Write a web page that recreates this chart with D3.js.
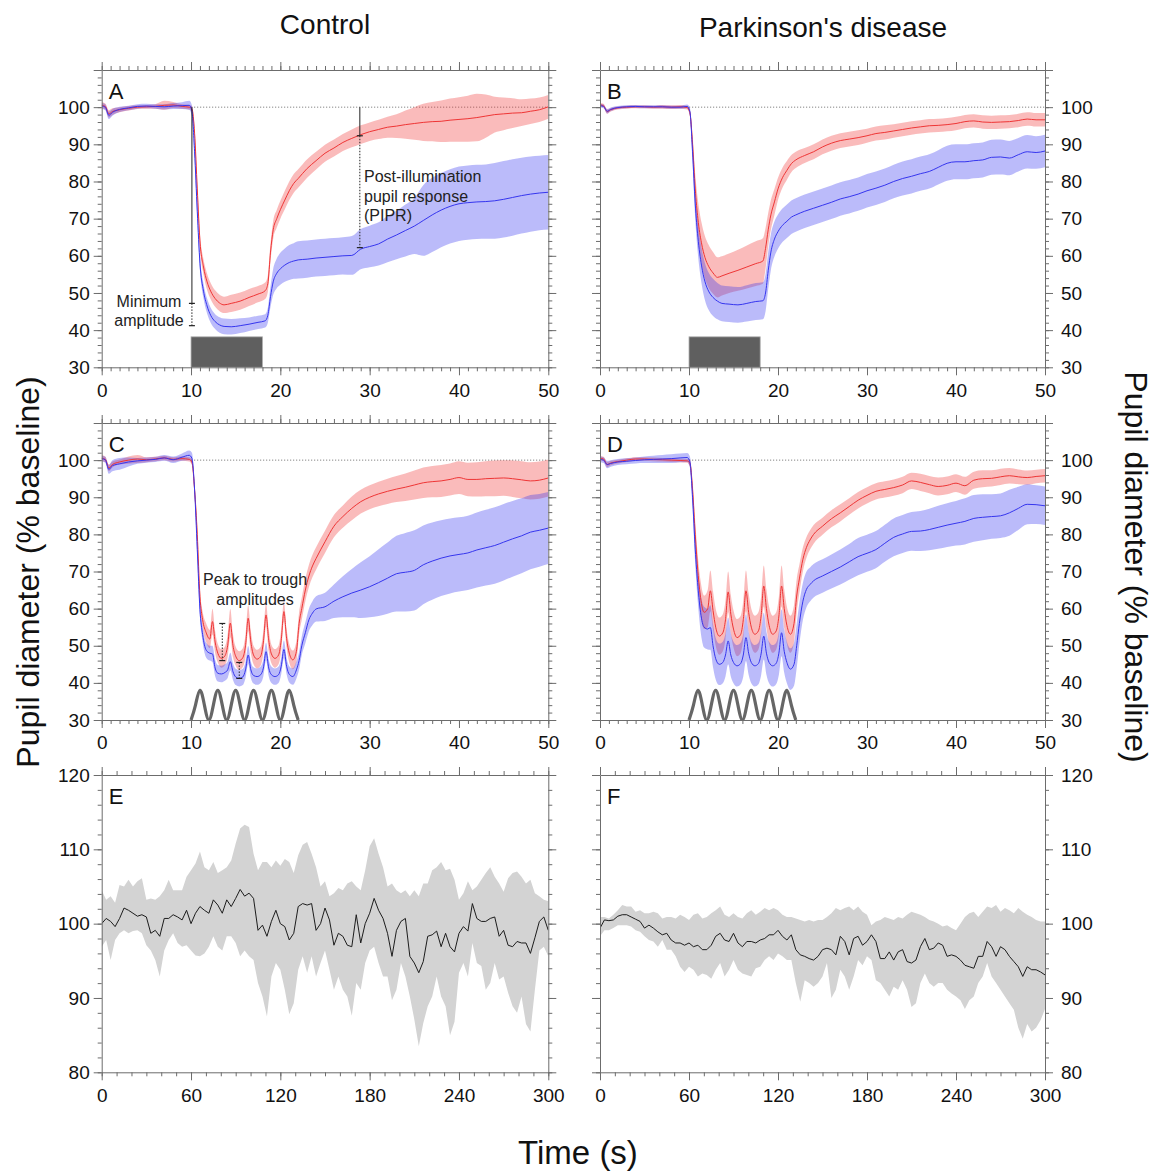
<!DOCTYPE html>
<html>
<head>
<meta charset="utf-8">
<script src="https://cdn.jsdelivr.net/npm/d3@7"></script>
<style>
  body { margin: 0; background: #fff; }
  svg { display: block; }
</style>
</head>
<body>
<svg id="fig" width="1158" height="1171"></svg>
<script>
// ---- data ----
// light pulse protocol, panels A-D (time in s)
const tAB = [
  0, 0.4, 0.8, 1.2, 2, 3, 4, 5, 6, 7,
  8, 9, 9.8, 10.1, 10.4, 10.7, 11, 11.4, 11.8, 12.2,
  12.7, 13.2, 13.7, 14.5, 15.5, 16.5, 17.5, 18.3, 18.6, 18.9,
  19.2, 19.6, 20, 20.5, 21, 21.5, 22, 23, 24, 25,
  26, 27, 28, 29, 30, 31, 32, 33, 34, 35,
  36, 37, 38, 39, 40, 41, 42, 43, 44, 45,
  46, 47, 48, 49, 50];

const redA = [
  100.5, 100.2, 98.2, 98.8, 99.3, 99.7, 100, 100.1, 100.2, 100.5,
  100.6, 100.2, 100, 99.5, 93, 78, 64, 57, 53, 50.5,
  48.5, 47.3, 46.8, 47.2, 47.8, 48.8, 49.7, 50.6, 52.5, 61,
  67, 70, 72.4, 75, 77.5, 79.5, 80.8, 83.5, 85.6, 87.6,
  89, 90.5, 91.6, 92.6, 93.4, 94, 94.6, 94.9, 95.3, 95.6,
  95.9, 96.1, 96.2, 96.5, 96.7, 96.9, 97.2, 97.6, 98, 98.2,
  98.4, 98.5, 98.9, 99.3, 100.1];
const redAErr = [
  0.8, 0.8, 1, 0.9, 0.7, 0.6, 0.5, 0.5, 0.6, 1.2,
  0.8, 0.6, 0.6, 0.8, 1.5, 1.8, 2, 2, 2.2, 2.2,
  2.2, 2.2, 2.2, 2.3, 2.3, 2.3, 2.2, 2.2, 2.3, 2.4,
  2.4, 2.4, 2.4, 2.5, 2.5, 2.5, 2.5, 2.5, 2.4, 2.3,
  2.3, 2.3, 2.4, 2.5, 2.5, 2.6, 2.8, 3.2, 3.8, 4.4,
  5, 5.3, 5.6, 5.8, 6, 6.2, 6.4, 5.8, 4.8, 4.4,
  4, 3.6, 3.4, 3.3, 3.2];
const blueA = [
  100.3, 100, 97.8, 98.6, 99.4, 99.8, 100.2, 100.3, 100.2, 100.1,
  100.3, 100.4, 100.5, 99, 88, 72, 58, 50.5, 46.5, 44,
  42.3, 41.4, 41, 40.9, 41.2, 41.6, 42.1, 42.5, 44, 49,
  53, 55.3, 56.5, 57.5, 58.2, 58.6, 58.9, 59.1, 59.4, 59.6,
  59.8, 60, 60.1, 61.8, 62.5, 63.2, 64.5, 65.6, 66.8, 68,
  69.5, 71, 72.3, 73.3, 74, 74.3, 74.5, 74.6, 74.8, 75.2,
  75.7, 76.2, 76.6, 76.9, 77.1];
const blueAErr = [
  0.8, 0.8, 1, 0.9, 0.7, 0.6, 0.6, 0.6, 0.6, 0.7,
  0.8, 0.9, 1.2, 1.5, 2, 2, 2, 2, 2, 2,
  2, 2.1, 2.1, 2.1, 2, 1.8, 1.8, 1.8, 2, 2.8,
  3.5, 4, 4.3, 4.5, 4.7, 4.8, 5, 5, 5, 5,
  5, 5, 5.2, 5.4, 5.6, 5.8, 6.2, 6.5, 7, 7.5,
  9.5, 10, 10, 10, 10, 10, 10, 10, 10.2, 10.3,
  10.3, 10.2, 10.1, 10, 10];

const redB = [
  100.6, 100.4, 98.8, 99.3, 99.8, 100, 100.1, 100.1, 100, 100.1,
  100, 100.1, 99.9, 98.5, 90, 78, 70, 63.5, 59.5, 57.2,
  55.4, 54.2, 54.6, 55.3, 56.1, 57, 57.9, 58.6, 62, 67,
  71, 74.5, 78, 81, 83, 84.8, 85.8, 87, 88, 89.3,
  90.3, 91, 91.4, 91.8, 92.3, 92.9, 93.2, 93.6, 94, 94.4,
  94.7, 95, 95.1, 95.3, 95.6, 96.1, 96.3, 96, 95.9, 96,
  96.1, 96.4, 96.8, 96.6, 96.6];
const redBErr = [
  0.5, 0.5, 0.6, 0.5, 0.4, 0.4, 0.4, 0.4, 0.4, 0.5,
  0.5, 0.5, 0.5, 0.8, 2.5, 4, 5, 5.5, 5.7, 5.8,
  5.6, 5.4, 5.3, 5.3, 5.5, 5.8, 6, 6.1, 5.5, 4.5,
  4, 3.5, 3, 2.7, 2.5, 2.3, 2.2, 2, 2, 2,
  2, 2, 2, 2, 1.9, 1.9, 1.9, 1.8, 1.8, 1.8,
  1.8, 1.8, 1.8, 1.8, 1.8, 1.8, 1.8, 1.8, 1.8, 1.8,
  1.8, 1.8, 1.8, 1.8, 1.8];
const blueB = [
  100.4, 100.2, 98.9, 99.4, 99.9, 100.1, 100.2, 100.1, 100.1, 100.1,
  100, 100, 100.2, 98.8, 88, 74, 65, 57.5, 53, 50.5,
  48.8, 47.8, 47.2, 47, 46.8, 47.2, 47.7, 47.9, 50, 56,
  61, 64.5, 66.5, 68.2, 69.3, 70.4, 71, 72, 72.8, 73.6,
  74.4, 75.3, 75.9, 76.6, 77.5, 78.2, 79, 80, 80.8, 81.4,
  82.1, 82.7, 83.8, 84.9, 85.3, 85.3, 85.6, 85.8, 86.5, 86.6,
  86.3, 87.2, 88, 87.8, 88.2];
const blueBErr = [
  0.5, 0.5, 0.6, 0.5, 0.4, 0.4, 0.4, 0.4, 0.4, 0.4,
  0.4, 0.4, 0.5, 1, 3, 4, 4.5, 4.8, 5, 5,
  5, 4.9, 4.8, 4.8, 4.8, 4.9, 5, 5, 5, 5,
  4.8, 4.7, 4.6, 4.5, 4.5, 4.5, 4.5, 4.5, 4.5, 4.5,
  4.5, 4.5, 4.5, 4.5, 4.5, 4.5, 4.5, 4.5, 4.6, 4.6,
  4.6, 4.6, 4.6, 4.7, 4.7, 4.7, 4.7, 4.7, 4.7, 4.7,
  4.6, 4.5, 4.5, 4.4, 4.4];

// sinusoidal protocol, panels C-D
const tCD = [
  0, 0.4, 0.8, 1.2, 2, 3, 4, 5, 6, 7,
  8, 9, 9.8, 10.1, 10.4, 10.7, 11, 11.3, 11.7, 12.1,
  12.4, 12.7, 13, 13.4, 13.8, 14.1, 14.4, 14.7, 15, 15.4,
  15.8, 16.1, 16.4, 16.7, 17, 17.4, 17.8, 18.1, 18.4, 18.7,
  19, 19.4, 19.8, 20.1, 20.4, 20.7, 21, 21.4, 21.8, 22.1,
  22.4, 22.8, 23.2, 23.6, 24, 25, 26, 27, 28, 29,
  30, 31, 32, 33, 34, 35, 36, 37, 38, 39,
  40, 41, 42, 43, 44, 45, 46, 47, 48, 49,
  50];

const redC = [
  100.5, 100.2, 97.9, 98.8, 99.5, 100, 100.3, 100.1, 100.3, 100.6,
  100.2, 100.4, 100.2, 99.5, 92, 80, 63.3, 57, 53.5, 51.8,
  56.5, 51, 48, 46.6, 47.3, 50, 56.1, 50, 47.2, 46,
  46.8, 50, 57.4, 51, 47.5, 46.4, 47.2, 51, 58.3, 51.5,
  47.8, 46.6, 47.5, 51.5, 59.2, 52, 48, 46.2, 48.5, 56,
  60, 65, 68.8, 71.5, 73.5, 78, 82.2, 84.8, 87, 88.8,
  90, 90.9, 91.6, 92.2, 92.7, 93.3, 93.9, 94.2, 94.4, 94.8,
  95.3, 94.8, 94.8, 95, 95.1, 95.2, 95, 94.7, 94.4, 94.6,
  95.2];
const redCErr = [
  0.8, 0.8, 0.9, 0.8, 0.7, 1, 1.1, 0.7, 0.6, 0.6,
  0.6, 0.6, 0.6, 0.8, 1.5, 2, 2, 2.2, 2.5, 2.5,
  3.5, 3, 2.5, 2.5, 2.5, 3, 3.8, 3, 2.5, 2.5,
  2.5, 3, 3.5, 3, 2.5, 2.5, 2.5, 3, 3.2, 3,
  2.5, 2.5, 2.5, 3, 2.8, 2.5, 2.5, 2.5, 2.8, 3,
  3, 3, 3, 3, 3, 3, 3, 3, 3.2, 3.2,
  3.2, 3.3, 3.4, 3.5, 3.7, 3.9, 4.1, 4.2, 4.3, 4.3,
  4.4, 4.5, 4.6, 4.7, 4.8, 4.8, 4.9, 5, 5, 5,
  5];
const blueC = [
  100.4, 100.1, 97.5, 98.5, 99, 99.5, 99.8, 100, 100.2, 100.6,
  100.1, 100.8, 101.3, 100.5, 92, 76, 59.7, 53, 48.8, 48,
  47.8, 44, 42.6, 42.4, 42.8, 43.5, 45.7, 43, 41.6, 41.2,
  41.6, 43.5, 47.5, 43.5, 42, 41.7, 42.2, 44, 48.4, 44,
  42.2, 41.7, 42.2, 44.5, 49, 44.5, 42.3, 41.7, 43.5, 46,
  50, 53.5, 57, 58.8, 59.9, 60.5, 62, 63.2, 64.2, 65,
  65.9, 67, 68.2, 69.4, 69.8, 70.3, 71.8, 72.8, 73.6, 74.2,
  74.6, 75, 75.8, 76.4, 77, 77.9, 78.8, 79.6, 80.6, 81.1,
  81.7];
const blueCErr = [
  0.8, 0.8, 1.2, 1.5, 1.6, 1.2, 0.8, 0.7, 0.7, 0.8,
  0.9, 1, 1.3, 1.5, 2, 2, 2, 2, 2, 2,
  2.2, 2.2, 2.2, 2.2, 2.2, 2.2, 2.4, 2.2, 2.2, 2.2,
  2.2, 2.2, 2.4, 2.2, 2.2, 2.2, 2.2, 2.2, 2.4, 2.2,
  2.2, 2.2, 2.2, 2.2, 2.4, 2.2, 2.2, 2.2, 2.3, 2.4,
  2.5, 2.8, 3, 3.2, 3.4, 3.8, 4.5, 5.5, 6.5, 7.5,
  8.2, 9, 9.6, 10.2, 10.6, 10.8, 10.6, 10.4, 10.2, 10.1,
  10, 10, 10.1, 10.2, 10.3, 10.3, 10.2, 10.1, 10, 9.8,
  9.7];

const redD = [
  100.5, 100.3, 98.8, 99.2, 99.6, 100, 100.3, 100.3, 100.2, 100.1,
  100, 99.9, 99.8, 99.2, 92, 80, 70, 63, 59, 60,
  64.8, 59.5, 55, 52.6, 53.5, 57, 64.5, 58.5, 54.5, 52.2,
  53, 57, 64.8, 59, 55, 53.1, 54, 58, 66.1, 60,
  55.5, 53.1, 54, 58, 66.1, 60, 55.5, 53.1, 56, 63.4,
  68, 73.3, 76.5, 78.5, 80, 82.2, 84.2, 85.8, 87.5, 89.2,
  90.5, 91.6, 92.1, 92.6, 93.3, 94.4, 94, 93.4, 92.9, 93.2,
  93.8, 93.1, 94.6, 95, 95.1, 95.5, 95.8, 95.5, 95.3, 95.6,
  95.8];
const redDErr = [
  0.6, 0.6, 0.7, 0.6, 0.5, 0.5, 0.5, 0.5, 0.5, 0.5,
  0.5, 0.5, 0.5, 1, 2.5, 3.5, 4, 4.5, 4.5, 5,
  5.5, 5.2, 5, 5, 5, 5.2, 5.5, 5.2, 5, 5,
  5, 5.2, 5.5, 5.2, 5, 5, 5, 5.2, 5.5, 5.2,
  5, 5, 5, 5.2, 5.5, 5.2, 5, 5, 5, 4.5,
  3.8, 3.2, 2.8, 2.6, 2.5, 2.3, 2.3, 2.3, 2.2, 2.2,
  2.2, 2.2, 2.2, 2.2, 2.2, 2.2, 2.3, 2.3, 2.4, 2.4,
  2.4, 2.4, 2.3, 2.3, 2.2, 2.2, 2.1, 2, 1.9, 1.8,
  1.8];
const blueD = [
  100.2, 100, 98.8, 99.1, 99.5, 99.7, 99.9, 100.1, 100.2, 100.3,
  100.4, 100.6, 100.7, 99.5, 90, 76, 66, 59, 55, 54.5,
  54.9, 50, 46.5, 45, 45.5, 47.5, 51.3, 47.5, 45.5, 44.6,
  45.2, 47.5, 52.2, 48, 45.5, 44.6, 45.2, 47.8, 52.6, 48,
  45.5, 44.6, 45.3, 48, 53.5, 48.5, 45.5, 43.7, 45, 50,
  56, 62, 65.2, 66.5, 67.5, 68.8, 70, 71.2, 72.6, 74,
  74.9, 75.9, 77.6, 79.2, 80.1, 80.8, 80.9, 81.3, 81.9, 82.5,
  83, 83.5, 84.3, 84.6, 84.8, 85, 85.8, 87, 88.1, 88,
  87.7];
const blueDErr = [
  0.8, 0.8, 1, 0.9, 0.8, 0.8, 0.8, 0.9, 1, 1.1,
  1.2, 1.2, 1.2, 1.5, 3, 4, 4.5, 5, 5.5, 5.5,
  6, 5.8, 5.6, 5.6, 5.6, 5.8, 6.3, 5.8, 5.6, 5.6,
  5.6, 5.8, 6.3, 5.8, 5.6, 5.6, 5.6, 5.8, 6.3, 5.8,
  5.6, 5.6, 5.6, 5.8, 6.3, 5.8, 5.6, 5.6, 5.8, 6,
  5.5, 5, 4.8, 4.6, 4.5, 4.5, 4.6, 4.7, 4.8, 5,
  5, 5, 5, 5.1, 5.1, 5.2, 5.4, 5.6, 5.8, 5.9,
  6, 6.2, 6.3, 6.2, 6, 6, 6.2, 5.8, 5.4, 5.2,
  5.2];

// dark recordings, panels E-F (every 3 s)
const tEF = [
  0, 3, 6, 9, 12, 15, 18, 21, 24, 27,
  30, 33, 36, 39, 42, 45, 48, 51, 54, 57,
  60, 63, 66, 69, 72, 75, 78, 81, 84, 87,
  90, 93, 96, 99, 102, 105, 108, 111, 114, 117,
  120, 123, 126, 129, 132, 135, 138, 141, 144, 147,
  150, 153, 156, 159, 162, 165, 168, 171, 174, 177,
  180, 183, 186, 189, 192, 195, 198, 201, 204, 207,
  210, 213, 216, 219, 222, 225, 228, 231, 234, 237,
  240, 243, 246, 249, 252, 255, 258, 261, 264, 267,
  270, 273, 276, 279, 282, 285, 288, 291, 294, 297,
  300];
const meanE = [
  100, 100.7, 100.3, 99.6, 100.7, 102.1, 101.8, 101.4, 101, 101.2,
  100.9, 98.7, 99.1, 98.3, 100.7, 100.7, 101.2, 100.9, 100.5, 101.8,
  100, 101.4, 102.3, 101.8, 101.4, 103.2, 102.5, 101.4, 103.2, 102.3,
  103.4, 104.6, 103.7, 104.1, 103.4, 99.1, 99.8, 98.3, 100.3, 101.8,
  100, 99.6, 97.8, 98.7, 102.3, 102.7, 102.5, 102.7, 99.1, 100,
  102.1, 100.5, 97.1, 98.7, 98.3, 97.1, 96.9, 101.2, 97.4, 100,
  101.4, 103.4, 101.8, 100.7, 98.7, 95.6, 99.1, 100.3, 100.7, 95.6,
  94.7, 93.4, 94.9, 98.3, 98.5, 99, 96.9, 98.7, 96.9, 96.2,
  98.7, 99.6, 99, 102.7, 100.7, 100.3, 100.3, 100.7, 100.9, 98.3,
  99.1, 97.1, 96.9, 97.6, 97.4, 97.4, 96, 98.1, 100.3, 100.9,
  99.1];
const hiE = [
  104.5, 103.2, 103.7, 102.8, 105.2, 105, 105.9, 105, 105.7, 106.1,
  103.2, 103.4, 103.2, 103.7, 104.5, 105.9, 104.5, 104.5, 104.5, 106.3,
  107.2, 108.1, 109.7, 107.6, 107.2, 108.3, 106.8, 107.2, 107.6, 108.5,
  110.8, 112.8, 113.3, 113, 109.4, 107.2, 108.3, 108.3, 107.6, 108.5,
  107.8, 108.7, 108.3, 106.8, 109.2, 110.6, 111, 109.4, 107.6, 105,
  105.7, 103.7, 104.1, 104.8, 104.5, 105.4, 105.7, 105, 104.5, 107.2,
  110.4, 111.5, 109.4, 107.6, 105, 105.4, 104.5, 104.1, 104.5, 103.7,
  104.5, 103.7, 105.4, 105.4, 107.2, 107.6, 108.3, 107.2, 107.4, 105.9,
  103.2, 104.1, 105.7, 104.5, 105, 105.9, 106.8, 107.6, 106.3, 105.4,
  104.3, 106.1, 106.8, 107, 106.3, 105.4, 105.9, 104.1, 103.7, 103.2,
  103];
const loE = [
  96.9, 97.8, 95.1, 97.8, 98.7, 99.1, 98.7, 99, 99.1, 98.7,
  97.1, 96.4, 95.1, 92.9, 96.4, 97.8, 98.7, 97.4, 96.9, 97.1,
  96.4, 95.7, 95.6, 96, 96.9, 98.3, 96.9, 96.4, 98.3, 98.3,
  97.4, 95.6, 96.4, 95.6, 95.1, 92, 90.2, 87.5, 92.9, 94.7,
  93.8, 91.1, 87.8, 89.3, 93.8, 95.6, 93.4, 95.6, 92.9, 94.7,
  96.4, 93.8, 91.1, 92.9, 91.1, 90.2, 87.6, 92, 91.1, 94.7,
  96.4, 96.9, 94.7, 92.9, 92.9, 89.7, 91.1, 94.7, 92.9, 90.2,
  87.1, 83.5, 86.6, 88.9, 90.2, 92.9, 90.2, 88.9, 85, 86.8,
  93.4, 94.7, 92.9, 97.4, 94.7, 94.3, 91.1, 92, 94.7, 92.5,
  92.9, 90.7, 88.9, 88, 90.2, 86.5, 85.5, 91.1, 96.4, 96.9,
  95.6];
const meanF = [
  99.4, 100.5, 100.4, 100.5, 101, 101.2, 101.2, 100.9, 100.6, 100.3,
  99.4, 99.8, 99.4, 98.9, 98.5, 98.7, 97.8, 97.4, 97.4, 97.1,
  97.4, 96.9, 97.1, 96.5, 96.5, 97.1, 98.3, 98.7, 97.8, 97.6,
  98.7, 97.4, 96.9, 97.6, 97.6, 97.4, 97.8, 98, 98.5, 98.5,
  99.1, 98.3, 97.8, 98.5, 96.5, 95.8, 95.6, 95.3, 95.1, 95.6,
  96.5, 96.7, 96.5, 95.8, 98.3, 97.6, 95.8, 98, 98.3, 97.1,
  97.6, 98.5, 97.6, 95.3, 95.3, 96.2, 95.1, 96.2, 96.5, 94.9,
  94.7, 95.1, 96.9, 98, 96.5, 96.7, 97.4, 97.1, 95.6, 95.8,
  95.6, 95.1, 94.4, 94.2, 94, 95.6, 95.6, 97.6, 96.9, 95.6,
  96.9, 96.5, 95.6, 94.9, 94.2, 92.9, 94.2, 93.8, 93.8, 93.5,
  93.1];
const hiF = [
  100.9, 100.9, 100.7, 101.2, 101.8, 102.5, 102.3, 102.3, 101.6, 101.8,
  101.4, 101.4, 101.6, 101.4, 100.7, 100.9, 100.9, 100.7, 101.2, 100.9,
  100.5, 101.2, 101.4, 100.7, 100.9, 101.4, 101.8, 102.3, 101.2, 100.9,
  101.4, 100.9, 100.7, 101.4, 101.8, 101.2, 101.6, 102.1, 101.8, 102.1,
  101.8, 101.2, 100.9, 100.9, 100.7, 100.5, 100.3, 100.5, 100.3, 100.5,
  100.5, 100.9, 101.4, 102.1, 101.8, 102.1, 102.3, 101.8, 102.3, 101.6,
  101.2, 99.8, 100.3, 100.5, 100.9, 100.7, 100.5, 100.9, 100.7, 101.2,
  101.6, 101.4, 101.2, 100.9, 100.5, 100.3, 100, 99.6, 99.8, 99.4,
  99.1, 100, 100.9, 101.4, 101.6, 100.9, 101.6, 102.3, 102.1, 102.5,
  101.6, 102.1, 101.8, 101.4, 102.1, 101.6, 101.2, 100.9, 100.5, 100.3,
  100.3];
const loF = [
  98.3, 99.1, 99.1, 99.4, 99.8, 99.8, 99.8, 99.6, 99.1, 98.9,
  98.3, 97.8, 97.6, 96.9, 97.8, 96.5, 96.5, 95.6, 94.2, 93.5,
  94.2, 93.8, 92.9, 93.3, 93.1, 92.6, 93.8, 94.7, 92.9, 93.8,
  95.1, 93.8, 93.3, 93.1, 92.9, 94, 94.2, 95.1, 95.6, 95.1,
  96, 95.6, 95.1, 95.1, 92, 89.5, 92.4, 92, 91.5, 92,
  92.9, 94.7, 90, 91.1, 93.8, 92.9, 91.1, 92.9, 95.1, 94.4,
  95.6, 95.1, 92.4, 92, 91.1, 90.2, 91.5, 91.1, 92.4, 91.1,
  88.8, 89.3, 92, 93.3, 92, 91.5, 92, 92, 91.1, 90.6,
  90.2, 89.7, 88.5, 89.7, 90.2, 92, 92.9, 94.7, 92.9, 92,
  91.1, 90.2, 89.3, 88.4, 86, 84.5, 86.5, 85.5, 86, 87,
  88.5];

// stimulus markers
const pulseSpan = [10, 18];       // light pulse A, B
const pulseTop = 38.2;
const sineT = [10, 10.5, 11, 11.5, 12, 12.5, 13, 13.5, 14, 14.5, 15, 15.5, 16,
  16.5, 17, 17.5, 18, 18.5, 19, 19.5, 20, 20.5, 21, 21.5, 22];
const sineV = [30, 34, 38, 34, 30, 34, 38, 34, 30, 34, 38, 34, 30,
  34, 38, 34, 30, 34, 38, 34, 30, 34, 38, 34, 30];

// annotation levels
const minAmpT = 10.1, minAmpLevels = [100, 47.2, 41.2];
const piprT = 28.9, piprLevels = [100, 92.3, 62.2];
const p2tMarks = [[13.5, 56, 46], [15.4, 45.5, 41.2]];

// axes ticks
const xTicksShort = [0, 10, 20, 30, 40, 50];
const xTicksLong = [0, 60, 120, 180, 240, 300];
const yTicksPulse = [30, 40, 50, 60, 70, 80, 90, 100, 110];
const yLabelsPulse = [30, 40, 50, 60, 70, 80, 90, 100];
const yTicksDark = [80, 90, 100, 110, 120];

// ---- drawing ----
const FONT = '"Liberation Sans", Arial, Helvetica, sans-serif';
const AXIS = "#6c6c6c";
const RED = "#ee3535", BLUE = "#3535ee";
const svg = d3.select("#fig");

const colX = [[101.7, 548.3], [600, 1045]];
const rowY = [[367.3, 70], [720, 423], [1072.3, 775]];

function styleAxis(sel) {
  sel.attr("font-family", FONT).attr("font-size", 19);
  sel.selectAll("path, line").attr("stroke", AXIS).attr("stroke-width", 1);
  sel.selectAll("text").attr("fill", "#111");
}

function addAxes(p, o) {
  const { x, y, g } = p;
  const [xl, xr] = x.range(), [yb, yt] = y.range();
  const fmt = (vals) => (d) => (vals.includes(d) ? d : "");
  const none = () => "";
  const sides = [
    { fn: d3.axisBottom, s: x, tr: `translate(0,${yb})`, maj: o.xMaj, min: o.xMin, lab: fmt(o.xMaj), pad: 8 },
    { fn: d3.axisTop, s: x, tr: `translate(0,${yt})`, maj: o.xMaj, min: o.xMin, lab: none, pad: 4 },
    { fn: d3.axisLeft, s: y, tr: `translate(${xl},0)`, maj: o.yMaj, min: o.yMin, lab: o.right ? none : fmt(o.yLab), pad: 4 },
    { fn: d3.axisRight, s: y, tr: `translate(${xr},0)`, maj: o.yMaj, min: o.yMin, lab: o.right ? fmt(o.yLab) : none, pad: 8 }
  ];
  sides.forEach((a) => {
    g.append("g").attr("transform", a.tr)
      .call(a.fn(a.s).tickValues(a.min).tickSize(4).tickSizeOuter(0).tickFormat(none))
      .call((s) => s.select(".domain").remove())
      .call(styleAxis);
    g.append("g").attr("transform", a.tr)
      .call(a.fn(a.s).tickValues(a.maj).tickSize(8).tickSizeOuter(0).tickPadding(a.pad).tickFormat(a.lab))
      .call(styleAxis);
  });
}

function makePanel(letter, col, row, xDom, yDom) {
  const x = d3.scaleLinear().domain(xDom).range(colX[col]);
  const y = d3.scaleLinear().domain(yDom).range(rowY[row]);
  const g = svg.append("g");
  const id = "clip" + letter;
  svg.append("clipPath").attr("id", id).append("rect")
    .attr("x", colX[col][0]).attr("y", rowY[row][1])
    .attr("width", colX[col][1] - colX[col][0])
    .attr("height", rowY[row][0] - rowY[row][1]);
  const plot = g.append("g").attr("clip-path", `url(#${id})`);
  g.append("text").text(letter)
    .attr("x", colX[col][0] + 7).attr("y", rowY[row][1] + 29)
    .attr("font-family", FONT).attr("font-size", 22).attr("fill", "#111");
  return { x, y, g, plot };
}

function band(p, t, lo, hi, color, op, curve) {
  const area = d3.area()
    .x((d, i) => p.x(t[i]))
    .y0((d, i) => p.y(lo[i]))
    .y1((d, i) => p.y(hi[i]))
    .curve(curve);
  p.plot.append("path").datum(t).attr("d", area).attr("fill", color).attr("fill-opacity", op);
}

function trace(p, t, v, color, width, curve) {
  const line = d3.line().x((d, i) => p.x(t[i])).y((d) => p.y(d)).curve(curve);
  p.plot.append("path").datum(v).attr("d", line)
    .attr("fill", "none").attr("stroke", color).attr("stroke-width", width)
    .attr("stroke-linejoin", "round");
}

function refLine(p) {
  p.plot.append("line")
    .attr("x1", p.x(10)).attr("x2", p.x(50))
    .attr("y1", p.y(100)).attr("y2", p.y(100))
    .attr("stroke", "#666").attr("stroke-width", 0.8).attr("stroke-dasharray", "1.2,1.8");
}

function meanBand(p, t, m, e, color, op) {
  band(p, t, m.map((v, i) => v - e[i]), m.map((v, i) => v + e[i]), color, op, d3.curveMonotoneX);
}

function pupilPanel(letter, col, row, t, rm, re, bm, be, stim) {
  const p = makePanel(letter, col, row, [0, 50], [30, 110]);
  refLine(p);
  if (stim === "pulse") {
    p.plot.append("rect")
      .attr("x", p.x(pulseSpan[0])).attr("width", p.x(pulseSpan[1]) - p.x(pulseSpan[0]))
      .attr("y", p.y(pulseTop)).attr("height", p.y(30) - p.y(pulseTop))
      .attr("fill", "#5f5f5f").attr("stroke", "#b0b0b0").attr("stroke-width", 0.8);
  } else {
    trace(p, sineT, sineV, "#666", 3.2, d3.curveNatural);
  }
  meanBand(p, t, rm, re, "#f03030", 0.33);
  meanBand(p, t, bm, be, "#3030f0", 0.33);
  trace(p, t, rm, RED, 1, d3.curveMonotoneX);
  trace(p, t, bm, BLUE, 1, d3.curveMonotoneX);
  addAxes(p, { xMaj: xTicksShort, xMin: d3.range(0, 51, 1), yMaj: yTicksPulse, yMin: d3.range(30, 111, 2), yLab: yLabelsPulse, right: col === 1 });
  return p;
}

function darkPanel(letter, col, m, lo, hi) {
  const p = makePanel(letter, col, 2, [0, 300], [80, 120]);
  band(p, tEF, lo, hi, "#d3d3d3", 1, d3.curveLinear);
  trace(p, tEF, m, "#1c1c1c", 1, d3.curveLinear);
  addAxes(p, { xMaj: xTicksLong, xMin: d3.range(0, 301, 10), yMaj: yTicksDark, yMin: d3.range(80, 121, 2), yLab: yTicksDark, right: col === 1 });
  return p;
}

function capTick(p, t, v) {
  p.g.append("line").attr("x1", p.x(t) - 3).attr("x2", p.x(t) + 3)
    .attr("y1", p.y(v)).attr("y2", p.y(v)).attr("stroke", "#222").attr("stroke-width", 1.2);
}
function vSeg(p, t, v1, v2, dotted) {
  p.g.append("line").attr("x1", p.x(t)).attr("x2", p.x(t))
    .attr("y1", p.y(v1)).attr("y2", p.y(v2))
    .attr("stroke", "#222").attr("stroke-width", 1)
    .attr("stroke-dasharray", dotted ? "1.5,1.5" : null);
}
function note(p, lines, x, y0, anchor) {
  const tx = p.g.append("text").attr("font-family", FONT).attr("font-size", 16)
    .attr("fill", "#222").attr("text-anchor", anchor);
  lines.forEach((s, i) => tx.append("tspan").attr("x", x).attr("y", y0 + i * 19.5).text(s));
}

const pA = pupilPanel("A", 0, 0, tAB, redA, redAErr, blueA, blueAErr, "pulse");
const pB = pupilPanel("B", 1, 0, tAB, redB, redBErr, blueB, blueBErr, "pulse");
const pC = pupilPanel("C", 0, 1, tCD, redC, redCErr, blueC, blueCErr, "sine");
const pD = pupilPanel("D", 1, 1, tCD, redD, redDErr, blueD, blueDErr, "sine");
darkPanel("E", 0, meanE, loE, hiE);
darkPanel("F", 1, meanF, loF, hiF);

// annotations panel A
vSeg(pA, minAmpT, minAmpLevels[0], minAmpLevels[1], false);
vSeg(pA, minAmpT, minAmpLevels[1], minAmpLevels[2], true);
capTick(pA, minAmpT, minAmpLevels[1]);
capTick(pA, minAmpT, minAmpLevels[2]);
note(pA, ["Minimum", "amplitude"], 149, 306.5, "middle");
vSeg(pA, piprT, piprLevels[0], piprLevels[1], false);
vSeg(pA, piprT, piprLevels[1], piprLevels[2], true);
capTick(pA, piprT, piprLevels[1]);
capTick(pA, piprT, piprLevels[2]);
note(pA, ["Post-illumination", "pupil response", "(PIPR)"], 364, 182, "start");

// annotations panel C
p2tMarks.forEach(([t, hi, lo]) => {
  vSeg(pC, t, hi, lo, true);
  capTick(pC, t, hi);
  capTick(pC, t, lo);
});
note(pC, ["Peak to trough", "amplitudes"], 255, 585, "middle");

// titles
const txt = (s, x, y, size, rot) => {
  const t = svg.append("text").text(s).attr("font-family", FONT).attr("font-size", size)
    .attr("fill", "#111").attr("text-anchor", "middle");
  if (rot) t.attr("transform", `translate(${x},${y}) rotate(${rot})`);
  else t.attr("x", x).attr("y", y);
};
txt("Control", 325, 34, 28);
txt("Parkinson's disease", 823, 37, 28);
txt("Pupil diameter (% baseline)", 39, 572, 32, -90);
txt("Pupil diameter (% baseline)", 1125, 567, 32, 90);
txt("Time (s)", 578, 1164, 33);

// sanity check of array lengths
const checks = [[tAB, [redA, redAErr, blueA, blueAErr, redB, redBErr, blueB, blueBErr]],
  [tCD, [redC, redCErr, blueC, blueCErr, redD, redDErr, blueD, blueDErr]],
  [tEF, [meanE, hiE, loE, meanF, hiF, loF]], [sineT, [sineV]]];
checks.forEach(([t, arrs], k) => arrs.forEach((a, j) => {
  if (a.length !== t.length) throw new Error(`length mismatch group ${k} array ${j}: ${a.length} vs ${t.length}`);
}));
</script>
</body>
</html>
